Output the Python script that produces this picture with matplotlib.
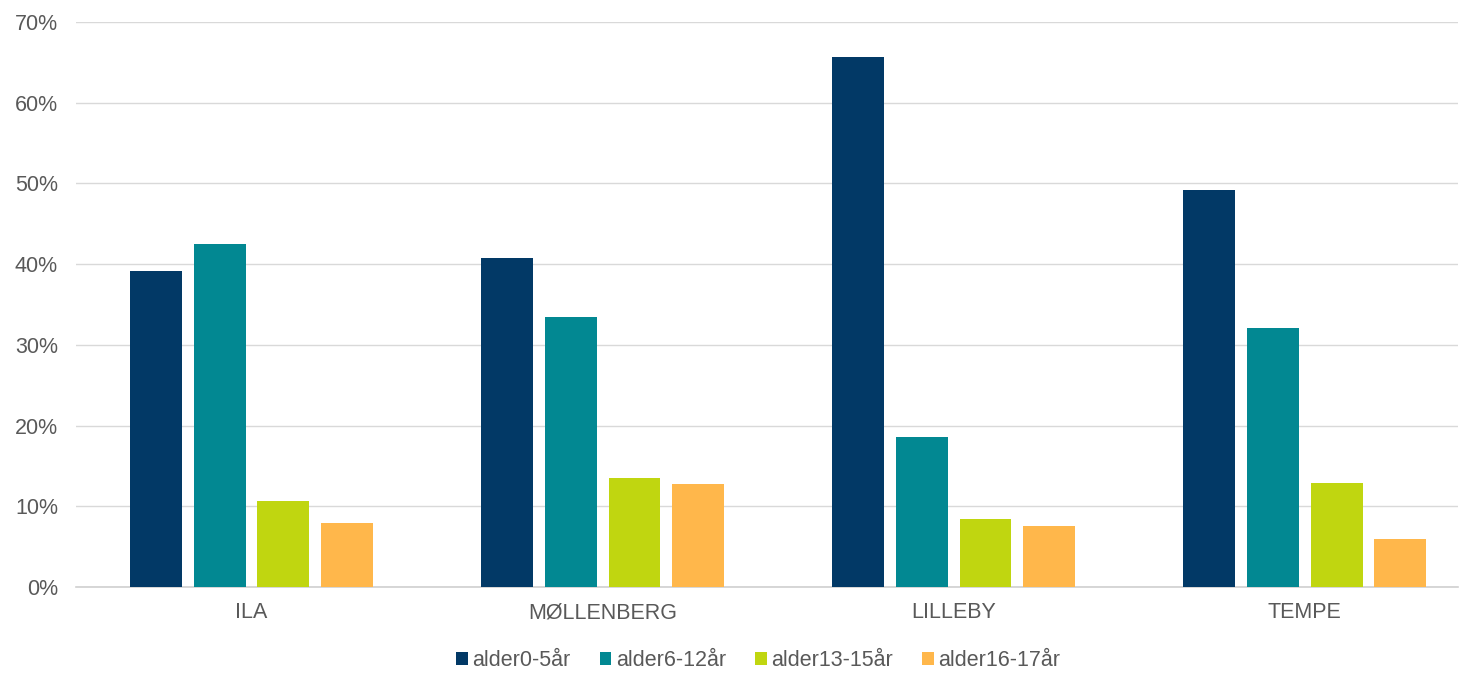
import matplotlib.pyplot as plt
import numpy as np
from matplotlib.ticker import FuncFormatter

plt.rcParams["font.family"] = ["Liberation Sans", "DejaVu Sans"]

# Andel barn per aldersgruppe i hvert område (%)
areas = ["ILA", "MØLLENBERG", "LILLEBY", "TEMPE"]
age_groups = ["alder0-5år", "alder6-12år", "alder13-15år", "alder16-17år"]
age_0_5 = [39.2, 40.7, 65.7, 49.2]
age_6_12 = [42.5, 33.4, 18.6, 32.1]
age_13_15 = [10.7, 13.5, 8.4, 12.9]
age_16_17 = [7.9, 12.7, 7.5, 6.0]
colors = ["#023966", "#028892", "#c0d610", "#ffb74b"]

series = [age_0_5, age_6_12, age_13_15, age_16_17]

fig = plt.figure(figsize=(14.61, 6.73), dpi=100)
ax = fig.add_axes([76 / 1461, 86 / 673, 1382 / 1461, 565 / 673])

x = np.arange(len(areas))
pitch = 0.182
width = 0.148
for i, (vals, label, c) in enumerate(zip(series, age_groups, colors)):
    ax.bar(x + (i - 1.5) * pitch, vals, width=width, color=c, label=label,
           zorder=3)

ax.set_xlim(-0.5, 3.437)
ax.set_ylim(0, 70)
ax.set_yticks(np.arange(0, 71, 10))
ax.yaxis.set_major_formatter(FuncFormatter(lambda v, p: f"{v:.0f}%"))
ax.set_xticks(x)
ax.set_xticklabels(areas)

ax.grid(axis="y", color="#d9d9d9", linewidth=1, zorder=0)
for side in ["top", "right", "left"]:
    ax.spines[side].set_visible(False)
ax.spines["bottom"].set_color("#d0d0d0")
ax.spines["bottom"].set_linewidth(1.2)
ax.tick_params(axis="both", length=0, labelsize=15.5, labelcolor="#595959")
ax.tick_params(axis="x", pad=11)
ax.tick_params(axis="y", pad=13)

fig.legend(loc="center", bbox_to_anchor=(758 / 1461, 1 - 661 / 673), ncol=4,
           frameon=False, fontsize=15.5, labelcolor="#595959",
           handlelength=0.55, handleheight=0.55, handletextpad=0.2,
           columnspacing=1.35)

fig.savefig("out.png", dpi=100)
